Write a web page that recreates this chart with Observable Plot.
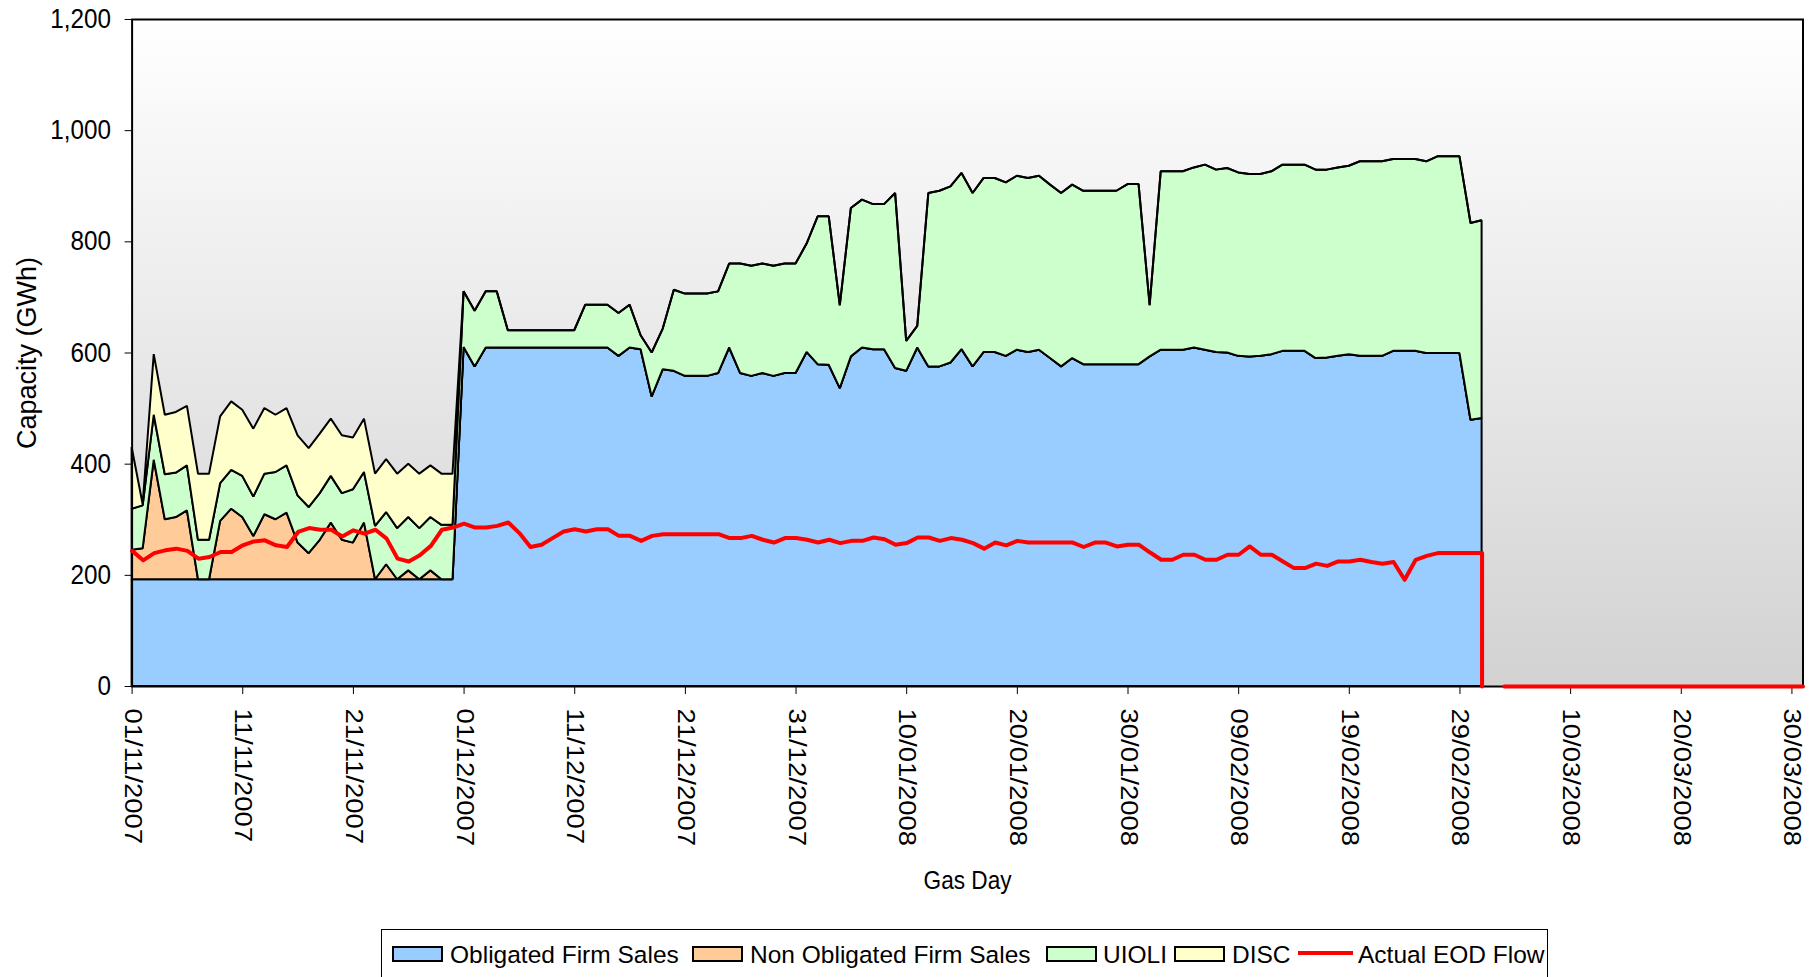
<!DOCTYPE html>
<html>
<head>
<meta charset="utf-8">
<script src="https://cdn.jsdelivr.net/npm/d3@7"></script>
<script src="https://cdn.jsdelivr.net/npm/@observablehq/plot@0.6"></script>
<style>
  html, body { margin: 0; padding: 0; background: #fff; overflow: hidden; width: 1816px; height: 977px; }
  #chart { position: absolute; left: 0; top: 0; }
  #legend { position: absolute; left: 381px; top: 929px; width: 1167px; height: 54px; border: 1.5px solid #000;
            box-sizing: border-box; font-family: "Liberation Sans", Arial, sans-serif; font-size: 24.5px; color: #000; white-space: nowrap; }
  .sw { position: absolute; top: 15.5px; width: 47px; height: 12px; border: 2px solid #000; }
  .ln { position: absolute; top: 21px; width: 55px; height: 4px; background: #ff0000; }
  .lab { position: absolute; top: 11px; line-height: 28px; }
</style>
</head>
<body>
<div id="chart"></div>
<div id="legend"></div>
<script>
// ---------- DATA (one value per gas day, starting 01/11/2007) ----------
const firstDay = "01/11/2007";
const lastDay  = "31/03/2008";
const tickLabels = ["01/11/2007","11/11/2007","21/11/2007","01/12/2007","11/12/2007","21/12/2007","31/12/2007",
  "10/01/2008","20/01/2008","30/01/2008","09/02/2008","19/02/2008","29/02/2008","10/03/2008","20/03/2008","30/03/2008"];
const yTicks = [0, 200, 400, 600, 800, 1000, 1200];

const seriesNames  = ["Obligated Firm Sales", "Non Obligated Firm Sales", "UIOLI", "DISC"];
const seriesColors = ["#99ccff", "#ffcc99", "#ccffcc", "#ffffcc"];
const flowName = "Actual EOD Flow";
const flowColor = "#ff0000";

// Obligated Firm Sales, 01/11/2007 .. 02/03/2008
const obligatedFirmSales = [
  192,192,192,192,192,192,192,192,192,192,
  192,192,192,192,192,192,192,192,192,192,
  192,192,192,192,192,192,192,192,192,192,
  610,575,609,609,609,609,609,609,609,609,
  609,609,609,609,594,609,606,521,570,567,
  558,558,558,563,609,563,558,563,558,563,
  563,601,579,578,536,593,609,606,606,572,
  567,609,575,575,582,606,575,601,601,594,
  605,601,605,590,575,590,579,579,579,579,
  579,579,593,605,605,605,609,605,601,600,
  594,593,594,597,603,603,603,590,591,594,
  597,594,594,594,603,603,603,599,599,599,
  599,479,482
];
// Non Obligated Firm Sales (November only; none afterwards)
const nonObligatedFirmSales = [
  53,56,215,108,112,124,0,0,105,127,
  112,78,117,108,120,66,47,71,102,71,
  66,102,0,27,0,16,0,16,0,0
];
// UIOLI, 01/11/2007 .. 02/03/2008
const uioli = [
  74,77,81,81,80,81,71,71,68,70,
  74,71,73,85,85,85,83,84,84,84,
  96,91,96,94,92,96,92,96,98,98,
  100,100,101,101,31,31,31,31,31,31,
  31,77,77,77,77,77,25,79,73,146,
  148,148,148,147,151,197,198,197,198,197,
  197,195,266,267,149,267,266,261,261,315,
  54,39,312,316,317,317,312,313,313,312,
  313,313,313,312,312,312,312,312,312,312,
  324,324,92,321,321,321,324,333,328,332,
  330,328,327,329,335,335,335,339,338,339,
  339,350,350,350,345,345,345,345,354,354,
  354,354,356
];
// DISC (November only; none afterwards)
const disc = [
  111,2,109,107,109,107,119,119,120,123,
  119,122,118,103,103,108,106,107,103,104,
  93,96,94,95,98,96,98,93,92,92
];
// Actual EOD Flow, 01/11/2007 .. 02/03/2008
const actualEodFlow = [
  244,227,240,245,248,244,230,233,242,242,
  254,261,263,254,251,278,285,282,282,270,
  281,275,282,266,230,225,236,253,282,286,
  293,286,286,289,295,276,251,255,267,279,
  283,279,283,283,271,271,262,271,274,274,
  274,274,274,274,267,267,271,264,259,267,
  267,264,259,264,258,262,262,268,265,255,
  258,268,268,262,267,264,258,248,259,254,
  262,259,259,259,259,259,251,259,259,252,
  255,255,241,228,228,237,237,228,228,237,
  237,252,237,237,225,213,213,221,217,225,
  225,228,224,221,224,192,228,235,240,240,
  240,240,240
];
// Actual EOD Flow, 04/03/2008 .. 31/03/2008
const flowTailStart = "04/03/2008";
const actualEodFlowTail = [0,0,0,0,0,0,0,0,0,0, 0,0,0,0,0,0,0,0,0,0, 0,0,0,0,0,0,0,0];

// ---------- BUILD ----------
const parse = d3.utcParse("%d/%m/%Y");
const t0 = parse(firstDay);
const day = (i, base = t0) => new Date(base.getTime() + i * 864e5);
const seriesValues = [obligatedFirmSales, nonObligatedFirmSales, uioli, disc];

const rows = [];
seriesNames.forEach((name, k) => {
  for (let i = 0; i < obligatedFirmSales.length; i++) {
    rows.push({date: day(i), series: name, value: seriesValues[k][i] ?? 0});
  }
});

const flowRows = actualEodFlow.map((v, i) => ({date: day(i), value: v, seg: 0}));
flowRows.push({date: day(actualEodFlow.length - 1), value: 0, seg: 0});
const tailBase = parse(flowTailStart);
actualEodFlowTail.forEach((v, j) => flowRows.push({date: day(j, tailBase), value: v, seg: 1}));

const chart = Plot.plot({
  width: 1816,
  height: 910,
  marginLeft: 131.6,
  marginRight: 13.5,
  marginTop: 19,
  marginBottom: 224,
  style: {fontFamily: "'Liberation Sans',Arial,sans-serif", fontSize: "27px", color: "#000", background: "transparent", overflow: "visible"},
  x: {
    type: "utc",
    domain: [parse(firstDay), parse(lastDay)],
    ticks: tickLabels.map(parse),
    tickFormat: d3.utcFormat("%d/%m/%Y"),
    tickRotate: 90,
    tickSize: 8,
    tickPadding: 14,
    label: "Gas Day",
    labelArrow: "none",
    labelAnchor: "center",
    labelOffset: 202
  },
  y: {
    domain: [0, 1200],
    ticks: yTicks,
    tickFormat: d3.format(","),
    tickSize: 7,
    tickPadding: 14,
    label: "Capacity (GWh)",
    labelArrow: "none",
    labelAnchor: "center",
    labelOffset: 115
  },
  color: {domain: seriesNames, range: seriesColors},
  marks: [
    Plot.frame({fill: "#eeeeee", ariaLabel: "background"}),
    Plot.areaY(rows, Plot.stackY({
      x: "date", y: "value", z: "series", fill: "series", order: seriesNames,
      stroke: "#000", strokeWidth: 2, strokeLinejoin: "miter"
    })),
    Plot.frame({stroke: "#000", strokeWidth: 2}),
    Plot.lineY(flowRows, {x: "date", y: "value", z: "seg", stroke: flowColor, strokeWidth: 4, strokeLinejoin: "round"})
  ]
});

// gradient background for the plotting area
const ns = "http://www.w3.org/2000/svg";
const defs = document.createElementNS(ns, "defs");
defs.innerHTML = '<linearGradient id="bgGrad" x1="0" y1="0" x2="0" y2="1">' +
  '<stop offset="0" stop-color="#ffffff"/><stop offset="1" stop-color="#d2d2d2"/></linearGradient>';
chart.insertBefore(defs, chart.firstChild);
const bg = chart.querySelector('[aria-label="background"]');
if (bg) {
  const r = bg.tagName.toLowerCase() === "rect" ? bg : bg.querySelector("rect");
  if (r) r.setAttribute("fill", "url(#bgGrad)");
}
// strip any label arrows
chart.querySelectorAll("text").forEach(t => {
  if (/[↑→↓←]/.test(t.textContent)) t.textContent = t.textContent.replace(/\s*[↑→↓←]\s*/g, "");
});
// condensed look of the original typeface (only appends a scale to the existing placement)
function squish(label, sx, sy, size) {
  chart.querySelectorAll(`[aria-label="${label}"]`).forEach(g => {
    if (size) g.style.fontSize = size;
    g.querySelectorAll("text").forEach(t => {
      const tr = t.getAttribute("transform");
      if (tr) t.setAttribute("transform", `${tr} scale(${sx},${sy})`);
    });
  });
}
squish("y-axis tick label", 0.9, 1, "27px");
squish("x-axis label", 0.87, 1, "26px");
squish("x-axis tick label", 1, 0.85, "27.5px");
document.getElementById("chart").appendChild(chart);

// legend
const legend = document.getElementById("legend");
const swatchLeft = [9.5, 310, 663.5, 792, 916];
const textLeft = [68, 368, 721, 850, 976];
const names = [...seriesNames, flowName];
names.forEach((name, k) => {
  const s = document.createElement("div");
  if (k < seriesNames.length) { s.className = "sw"; s.style.background = seriesColors[k]; }
  else { s.className = "ln"; s.style.background = flowColor; }
  s.style.left = swatchLeft[k] + "px";
  const t = document.createElement("span"); t.className = "lab"; t.textContent = name;
  t.style.left = textLeft[k] + "px";
  legend.appendChild(s); legend.appendChild(t);
});
</script>
</body>
</html>
